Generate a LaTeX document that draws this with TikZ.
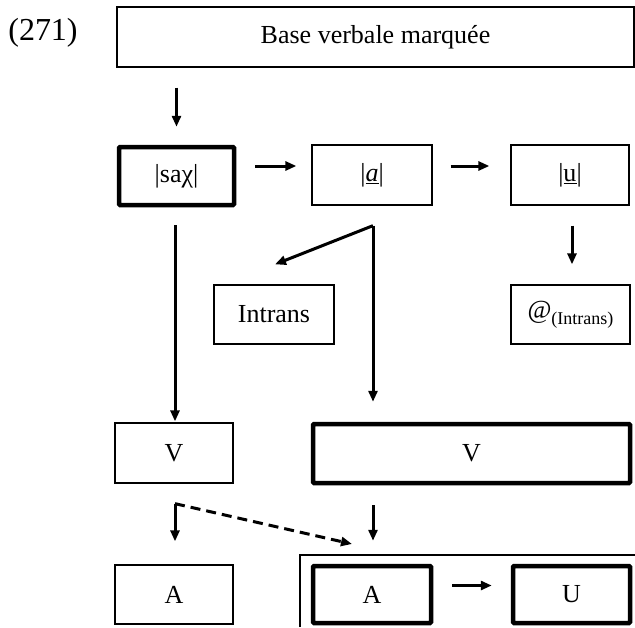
\documentclass[tikz,border=0pt]{standalone}
\usepackage{fontspec}
\setmainfont{Liberation Serif}
\usetikzlibrary{arrows.meta}
\begin{document}
\begin{tikzpicture}[x=1pt,y=-1pt,
  box/.style={draw, line width=1.3pt, inner sep=0pt, font=\fontsize{26}{30}\selectfont},
  thickbox/.style={box, line width=4.5pt, rounded corners=1pt},
  arr/.style={line width=3pt, -{Triangle[length=11pt,width=9pt]}},
  ln/.style={line width=3pt},
  dsh/.style={line width=3pt, dash pattern=on 10pt off 6pt, -{Triangle[length=11pt,width=9pt]}}]
\useasboundingbox (0,0) rectangle (635,627);
% label
\node[font=\fontsize{32}{36}\selectfont, inner sep=0pt] (num) at (43,33) {(271)};
% boxes
\node[box, minimum width=517pt, minimum height=60pt] (base) at (375.5,37) {Base verbale marquée};
\node[thickbox, minimum width=115pt, minimum height=58pt] (sax) at (176.5,176) {|saχ|};
\node[box, minimum width=120pt, minimum height=60pt] (a) at (372,175) {|\underline{\textit{a}}|};
\node[box, minimum width=118pt, minimum height=60pt] (u) at (570,175) {|\underline{u}|};
\node[box, minimum width=120pt, minimum height=59pt] (intr) at (274,314.5) {Intrans};
\node[box, minimum width=119pt, minimum height=59pt] (at) at (570.5,314.5) {@\raisebox{-6pt}{\fontsize{18}{20}\selectfont(Intrans)}};
\node[box, minimum width=118pt, minimum height=60pt] (v1) at (174,453) {V};
\node[thickbox, minimum width=317pt, minimum height=59pt] (v2) at (471.5,453.5) {V};
\node[box, minimum width=118pt, minimum height=59pt] (a1) at (174,594.5) {A};
\node[thickbox, minimum width=118pt, minimum height=57pt] (a2) at (372,594.5) {A};
\node[thickbox, minimum width=117pt, minimum height=57pt] (uu) at (571.5,594.5) {U};
% frame
\draw[line width=1.2pt] (300,627) -- (300,555) -- (635,555);
% connectors
\draw[arr] ([yshift=-20pt]base.south -| sax.north) -- ([yshift=18pt]sax.north);
\draw[arr] ([xshift=19pt,yshift=10pt]sax.east) -- ([xshift=-15pt,yshift=9pt]a.west);
\draw[arr] ([xshift=18pt,yshift=9pt]a.east) -- ([xshift=-21pt,yshift=9pt]u.west);
\coordinate (sp) at ([xshift=-1.5pt,yshift=-18pt]sax.south);
\draw[ln] (sp) -- ([yshift=20pt]sp |- v1.north) coordinate (sq);
\coordinate (ap) at ([xshift=1pt,yshift=-20pt]a.south);
\draw[arr] (ap) -- ([yshift=20pt]ap |- v2.north);
\draw[arr] (ap) -- ([xshift=1pt,yshift=20pt]intr.north);
\draw[arr] ([xshift=2pt,yshift=-20pt]u.south) -- ([xshift=2pt,yshift=20pt]u.south |- at.north);
\draw[arr] (sq) -- ([yshift=1pt]sq |- v1.north);
\coordinate (bc) at ([xshift=1pt,yshift=-20pt]v1.south);
\coordinate (dend) at (352,544);
\draw[arr] (bc) -- ([xshift=1pt,yshift=23pt]a1.north);
\draw[dsh] (bc) -- (dend);
\draw[arr] ([xshift=1pt,yshift=-20pt]v2.south -| a2.north) -- ([xshift=1pt,yshift=23pt]a2.north);
\draw[arr] ([xshift=19pt,yshift=9pt]a2.east) -- ([xshift=-19pt,yshift=9pt]uu.west);
\end{tikzpicture}
\end{document}
